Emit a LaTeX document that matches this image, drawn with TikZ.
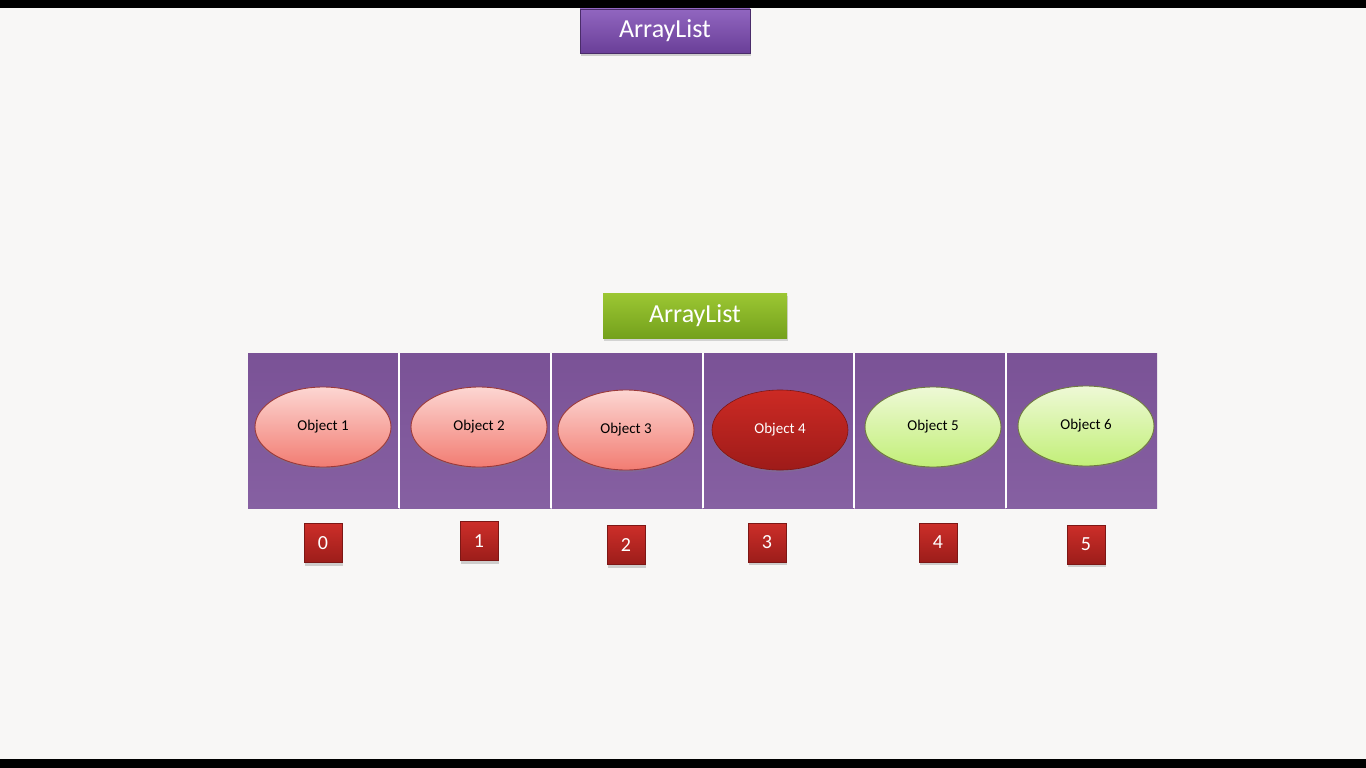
\documentclass[tikz,border=0pt]{standalone}
\usepackage{fontspec}
\setmainfont{Carlito}
\usetikzlibrary{shapes.geometric,shadows}
\definecolor{bg}{HTML}{F8F7F6}
\definecolor{cellA}{HTML}{7A5296}
\definecolor{cellB}{HTML}{8660A2}
\definecolor{hdrTop}{HTML}{9166C0}
\definecolor{hdrBot}{HTML}{6A3F98}
\definecolor{grnTop}{HTML}{9CC733}
\definecolor{grnBot}{HTML}{74A11C}
\definecolor{pinkTop}{HTML}{FCD6D2}
\definecolor{pinkBot}{HTML}{F27C72}
\definecolor{pinkEdge}{HTML}{9B3A3A}
\definecolor{redTop}{HTML}{CC2A24}
\definecolor{redBot}{HTML}{9E1B19}
\definecolor{limeTop}{HTML}{EEF9D6}
\definecolor{limeBot}{HTML}{C2EF78}
\definecolor{limeEdge}{HTML}{6F7A40}
\definecolor{idxTop}{HTML}{CC2E29}
\definecolor{idxBot}{HTML}{9C1D1A}
\tikzset{
  hdrbox/.style={rectangle, draw=hdrBot!70!black, line width=0.8pt, top color=hdrTop, bottom color=hdrBot,
    minimum width=170pt, minimum height=44pt, text=white, font=\fontsize{26}{30}\selectfont,
    drop shadow={shadow xshift=1pt, shadow yshift=-3pt, opacity=0.35}},
  grnbox/.style={rectangle, top color=grnTop, bottom color=grnBot, draw=none,
    minimum width=184pt, minimum height=45pt, text=white, font=\fontsize{26}{30}\selectfont,
    drop shadow={shadow xshift=1pt, shadow yshift=-3pt, opacity=0.3}},
  cellbox/.style={rectangle, draw=none, top color=cellA, bottom color=cellB,
    minimum width=151pt, minimum height=155pt, inner sep=0pt},
  objpink/.style={ellipse, top color=pinkTop, bottom color=pinkBot, draw=pinkEdge, line width=0.9pt,
    minimum width=136pt, minimum height=80pt, inner sep=0pt, font=\fontsize{15}{17}\selectfont,
    drop shadow={shadow xshift=0pt, shadow yshift=-2pt, opacity=0.3}},
  objred/.style={ellipse, top color=redTop, bottom color=redBot, draw=redBot!80!black, line width=0.6pt,
    minimum width=136pt, minimum height=80pt, inner sep=0pt, text=white, font=\fontsize{15}{17}\selectfont,
    drop shadow={shadow xshift=0pt, shadow yshift=-2pt, opacity=0.3}},
  objlime/.style={ellipse, top color=limeTop, bottom color=limeBot, draw=limeEdge, line width=0.9pt,
    minimum width=136pt, minimum height=80pt, inner sep=0pt, font=\fontsize{15}{17}\selectfont,
    drop shadow={shadow xshift=0pt, shadow yshift=-2pt, opacity=0.3}},
  idxbox/.style={rectangle, top color=idxTop, bottom color=idxBot, draw=idxBot!80!black, line width=0.5pt,
    minimum width=38pt, minimum height=39pt, inner sep=0pt, text=white, font=\fontsize{20}{24}\selectfont,
    drop shadow={shadow xshift=1pt, shadow yshift=-3pt, opacity=0.35}},
  sepline/.style={draw=white, line width=1.6pt}
}
\begin{document}
\begin{tikzpicture}[x=1pt,y=-1pt]
\useasboundingbox (0,0) rectangle (1366,768);
\fill[bg] (0,0) rectangle (1366,768);
\fill[black] (0,0) rectangle (1366,8.5);
\fill[black] (0,759) rectangle (1366,768);

\node[hdrbox] (top) at (665,31) {ArrayList};
\node[grnbox] (arr) at (695,315.5) {ArrayList};

\node[cellbox] (c0) at (323.5,430.5) {};
\node[cellbox] (c1) at (475,430.5) {};
\node[cellbox] (c2) at (627,430.5) {};
\node[cellbox] (c3) at (778.5,430.5) {};
\node[cellbox] (c4) at (930,430.5) {};
\node[cellbox] (c5) at (1081.5,430.5) {};
\draw[sepline] (c0.north east) -- (c0.south east);
\draw[sepline] (c1.north east) -- (c1.south east);
\draw[sepline] (c2.north east) -- (c2.south east);
\draw[sepline] (c3.north east) -- (c3.south east);
\draw[sepline] (c4.north east) -- (c4.south east);

\node[objpink] (o1) at (323,427) {Object 1};
\node[objpink] (o2) at (479,427) {Object 2};
\node[objpink] (o3) at (626,430) {Object 3};
\node[objred]  (o4) at (780,430) {Object 4};
\node[objlime] (o5) at (933,427) {Object 5};
\node[objlime] (o6) at (1086,426) {Object 6};

\node[idxbox] (i0) at (323,543) {0};
\node[idxbox] (i1) at (479,541) {1};
\node[idxbox] (i2) at (626,545) {2};
\node[idxbox] (i3) at (767,542.5) {3};
\node[idxbox] (i4) at (938,542.5) {4};
\node[idxbox] (i5) at (1086,544.5) {5};
\end{tikzpicture}
\end{document}
